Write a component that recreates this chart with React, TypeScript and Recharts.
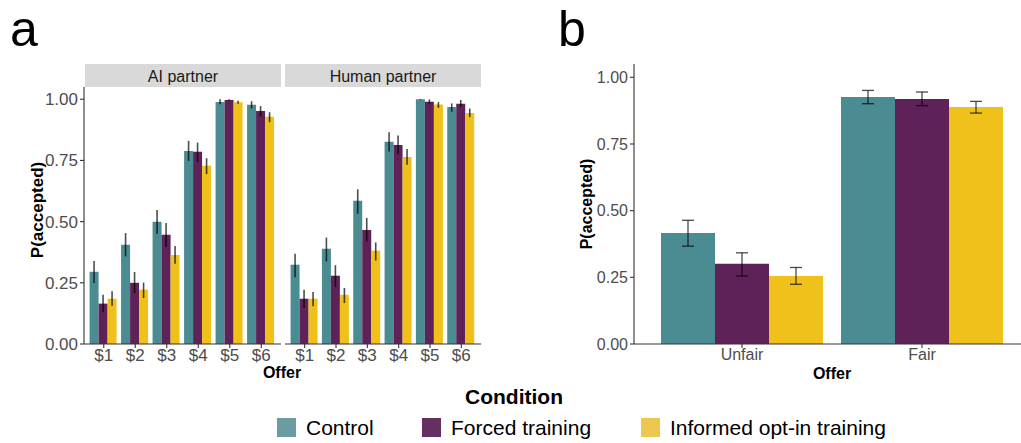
import { BarChart, Bar, XAxis, YAxis, ErrorBar } from 'recharts';

// #region data
const offers = ['$1', '$2', '$3', '$4', '$5', '$6'];
const fairness = ['Unfair', 'Fair'];
const yTicks = [0, 0.25, 0.5, 0.75, 1];

const aiControl = [0.295, 0.405, 0.499, 0.789, 0.989, 0.977];
const aiControlLo = [0.249, 0.358, 0.449, 0.748, 0.98, 0.962];
const aiControlHi = [0.339, 0.453, 0.547, 0.83, 1.0, 0.992];
const aiForced = [0.165, 0.25, 0.446, 0.785, 0.997, 0.952];
const aiForcedLo = [0.13, 0.208, 0.396, 0.743, 0.994, 0.929];
const aiForcedHi = [0.201, 0.294, 0.494, 0.823, 1.0, 0.972];
const aiInformed = [0.185, 0.222, 0.364, 0.728, 0.988, 0.928];
const aiInformedLo = [0.156, 0.188, 0.328, 0.694, 0.982, 0.906];
const aiInformedHi = [0.216, 0.251, 0.4, 0.759, 0.994, 0.947];

const humanControl = [0.324, 0.389, 0.585, 0.826, 1.0, 0.968];
const humanControlLo = [0.273, 0.337, 0.532, 0.786, 0.997, 0.949];
const humanControlHi = [0.369, 0.435, 0.632, 0.865, 1.0, 0.983];
const humanForced = [0.185, 0.279, 0.466, 0.813, 0.99, 0.982];
const humanForcedLo = [0.147, 0.233, 0.419, 0.775, 0.979, 0.968];
const humanForcedHi = [0.222, 0.322, 0.515, 0.852, 0.999, 0.997];
const humanInformed = [0.185, 0.201, 0.381, 0.764, 0.978, 0.944];
const humanInformedLo = [0.154, 0.167, 0.341, 0.732, 0.965, 0.927];
const humanInformedHi = [0.212, 0.229, 0.415, 0.797, 0.988, 0.962];

const fairControl = [0.416, 0.926];
const fairControlLo = [0.367, 0.901];
const fairControlHi = [0.464, 0.951];
const fairForced = [0.301, 0.919];
const fairForcedLo = [0.255, 0.894];
const fairForcedHi = [0.342, 0.945];
const fairInformed = [0.255, 0.889];
const fairInformedLo = [0.224, 0.866];
const fairInformedHi = [0.287, 0.91];
// #endregion

const conditions = ['Control', 'Forced training', 'Informed opt-in training'];
const barColors = ['#4b8c93', '#5e2259', '#efc11a'];
const keyColors = ['#6a9ca1', '#662f62', '#ecc94e'];

const FONT = '"Liberation Sans", Arial, Helvetica, sans-serif';

const build = (
  cats: string[],
  c: number[], cLo: number[], cHi: number[],
  f: number[], fLo: number[], fHi: number[],
  i: number[], iLo: number[], iHi: number[],
) =>
  cats.map((name, k) => ({
    name,
    control: c[k],
    controlErr: [c[k] - cLo[k], cHi[k] - c[k]],
    forced: f[k],
    forcedErr: [f[k] - fLo[k], fHi[k] - f[k]],
    informed: i[k],
    informedErr: [i[k] - iLo[k], iHi[k] - i[k]],
  }));

const aiData = build(offers, aiControl, aiControlLo, aiControlHi, aiForced, aiForcedLo, aiForcedHi, aiInformed, aiInformedLo, aiInformedHi);
const humanData = build(offers, humanControl, humanControlLo, humanControlHi, humanForced, humanForcedLo, humanForcedHi, humanInformed, humanInformedLo, humanInformedHi);
const fairData = build(fairness, fairControl, fairControlLo, fairControlHi, fairForced, fairForcedLo, fairForcedHi, fairInformed, fairInformedLo, fairInformedHi);

const keys = ['control', 'forced', 'informed'];
const axisStroke = { stroke: '#333', strokeWidth: 1.1 };

function Bars({ capWidth }: { capWidth: number }) {
  return (
    <>
      {keys.map((k, n) => (
        <Bar key={k} dataKey={k} fill={barColors[n]} isAnimationActive={false}>
          <ErrorBar
            dataKey={k + 'Err'}
            width={capWidth}
            stroke="#000"
            strokeOpacity={0.7}
            strokeWidth={capWidth ? 1.3 : 1.6}
          />
        </Bar>
      ))}
    </>
  );
}

function Facet({ data, left, showY }: { data: any[]; left: number; showY: boolean }) {
  return (
    <BarChart
      width={showY ? 281 : 196}
      height={380}
      data={data}
      margin={{ top: 87, right: 0, bottom: 0, left: 0 }}
      barCategoryGap="5%"
      barGap={0}
      style={{ position: 'absolute', left, top: 0, overflow: 'visible' }}
    >
      <XAxis
        dataKey="name"
        height={36}
        padding={{ left: 4, right: 4 }}
        axisLine={axisStroke}
        tickLine={axisStroke}
        tickSize={4}
        tickMargin={1}
        tick={{ fill: '#4d4d4d', fontSize: 17, fontFamily: FONT }}
      />
      <YAxis
        hide={!showY}
        width={84}
        domain={[0, 1.05]}
        ticks={yTicks}
        interval={0}
        tickFormatter={(v: number) => v.toFixed(2)}
        axisLine={axisStroke}
        tickLine={axisStroke}
        tickSize={4}
        tickMargin={2}
        tick={{ fill: '#4d4d4d', fontSize: 17, fontFamily: FONT }}
      />
      <Bars capWidth={0} />
    </BarChart>
  );
}

export default function App() {
  return (
    <div
      style={{
        position: 'absolute',
        left: 0,
        top: 0,
        width: 1021,
        height: 443,
        overflow: 'hidden',
        background: '#fff',
        fontFamily: FONT,
      }}
    >
      <Facet data={aiData} left={0} showY />
      <Facet data={humanData} left={285} showY={false} />

      <BarChart
        width={470}
        height={380}
        data={fairData}
        margin={{ top: 64, right: 0, bottom: 0, left: 0 }}
        barCategoryGap="5%"
        barGap={0}
        style={{ position: 'absolute', left: 560, top: 0 }}
      >
        <XAxis
          dataKey="name"
          height={36}
          padding={{ left: 18, right: 18 }}
          axisLine={axisStroke}
          tickLine={axisStroke}
          tickSize={4}
          tickMargin={1}
          tick={{ fill: '#4d4d4d', fontSize: 16, fontFamily: FONT }}
        />
        <YAxis
          width={74}
          domain={[0, 1.05]}
          ticks={yTicks}
          interval={0}
          tickFormatter={(v: number) => v.toFixed(2)}
          axisLine={axisStroke}
          tickLine={axisStroke}
          tickSize={4}
          tickMargin={2}
          tick={{ fill: '#4d4d4d', fontSize: 16, fontFamily: FONT }}
        />
        <Bars capWidth={6} />
      </BarChart>

      <svg
        width={1021}
        height={443}
        style={{ position: 'absolute', left: 0, top: 0, pointerEvents: 'none' }}
        fontFamily={FONT}
      >
        <text x={10} y={46} fontSize={50} fill="#000">a</text>
        <text x={558} y={46} fontSize={50} fill="#000">b</text>

        <rect x={85} y={64} width={196} height={23} fill="#d9d9d9" />
        <text x={183} y={82} fontSize={16} fill="#1a1a1a" textAnchor="middle">AI partner</text>
        <rect x={285} y={64} width={196} height={23} fill="#d9d9d9" />
        <text x={383} y={82} fontSize={16} fill="#1a1a1a" textAnchor="middle">Human partner</text>

        <text
          x={0}
          y={0}
          transform="translate(43 210) rotate(-90)"
          fontSize={17}
          fontWeight="bold"
          textAnchor="middle"
        >
          P(accepted)
        </text>
        <text
          x={0}
          y={0}
          transform="translate(592 204) rotate(-90)"
          fontSize={16}
          fontWeight="bold"
          textAnchor="middle"
        >
          P(accepted)
        </text>
        <text x={282} y={378} fontSize={16} fontWeight="bold" textAnchor="middle">Offer</text>
        <text x={832} y={379} fontSize={16} fontWeight="bold" textAnchor="middle">Offer</text>

        <text x={514} y={404} fontSize={21} fontWeight="bold" textAnchor="middle">Condition</text>
        {conditions.map((c, n) => {
          const x = [277, 422, 641][n];
          return (
            <g key={c}>
              <rect x={x} y={418} width={19} height={19} fill={keyColors[n]} />
              <text x={x + 29} y={435} fontSize={21} fill="#000">{c}</text>
            </g>
          );
        })}
      </svg>
    </div>
  );
}
